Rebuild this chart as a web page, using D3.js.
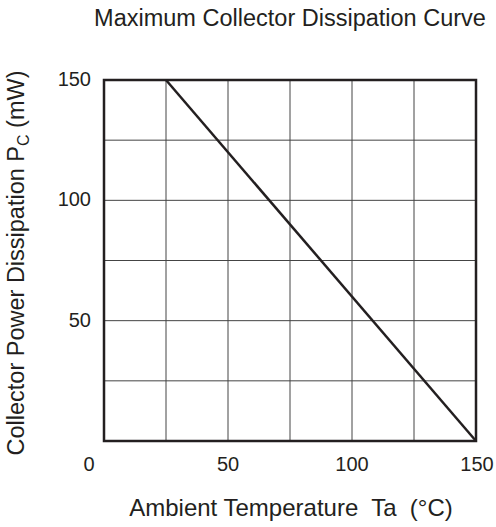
<!DOCTYPE html>
<html>
<head>
<meta charset="utf-8">
<script src="https://cdn.jsdelivr.net/npm/d3@7"></script>
<style>
  body { margin: 0; background: #fff; }
  text { font-family: "Liberation Sans", Arial, sans-serif; fill: #231f20; }
</style>
</head>
<body>
<svg id="chart" width="496" height="527"></svg>
<script>
// Data: derating curve (Ta in °C, Pc in mW)
const temps = [25, 150];
const power = [150, 0];
const xTicks = [0, 50, 100, 150];
const yTicks = [50, 100, 150];
const gridStep = [0, 25, 50, 75, 100, 125, 150];

const margin = { top: 80, right: 20, bottom: 86, left: 104 };
const width = 496 - margin.left - margin.right;
const height = 527 - margin.top - margin.bottom;

const x = d3.scaleLinear().domain([0, 150]).range([0, width]);
const y = d3.scaleLinear().domain([0, 150]).range([height, 0]);

const svg = d3.select("#chart");
const g = svg.append("g").attr("transform", `translate(${margin.left}, ${margin.top})`);

// Grid lines
g.selectAll(".vgrid")
  .data(gridStep)
  .enter()
  .append("line")
  .attr("x1", (d) => x(d))
  .attr("x2", (d) => x(d))
  .attr("y1", 0)
  .attr("y2", height)
  .style("stroke", "#444")
  .style("stroke-width", 1);

g.selectAll(".hgrid")
  .data(gridStep)
  .enter()
  .append("line")
  .attr("x1", 0)
  .attr("x2", width)
  .attr("y1", (d) => y(d))
  .attr("y2", (d) => y(d))
  .style("stroke", "#444")
  .style("stroke-width", 1);

// Frame
g.append("rect")
  .attr("width", width)
  .attr("height", height)
  .style("fill", "none")
  .style("stroke", "#231f20")
  .style("stroke-width", 2.5);

// Curve
const line = d3.line()
  .x((d, i) => x(temps[i]))
  .y((d) => y(d));

g.append("path")
  .datum(power)
  .attr("d", line)
  .style("fill", "none")
  .style("stroke", "#231f20")
  .style("stroke-width", 2.5);

// X tick labels (the 0 sits left of the corner)
g.selectAll(".xlabel")
  .data(xTicks)
  .enter()
  .append("text")
  .attr("x", (d) => x(d) + (d === 0 ? -15 : d === 150 ? 1 : 0))
  .attr("y", height + 30)
  .attr("text-anchor", "middle")
  .style("font-size", "20px")
  .text((d) => d);

// Y tick labels
g.selectAll(".ylabel")
  .data(yTicks)
  .enter()
  .append("text")
  .attr("x", -13)
  .attr("y", (d) => y(d) + 6)
  .attr("text-anchor", "end")
  .style("font-size", "20px")
  .text((d) => d);

// Title
svg.append("text")
  .attr("x", 290)
  .attr("y", 26)
  .attr("text-anchor", "middle")
  .style("font-size", "23.5px")
  .text("Maximum Collector Dissipation Curve");

// X axis title
svg.append("text")
  .attr("x", 291)
  .attr("y", 516)
  .attr("text-anchor", "middle")
  .style("font-size", "24px")
  .attr("xml:space", "preserve")
  .text("Ambient Temperature  Ta  (°C)");

// Y axis title with subscript
const yTitle = svg.append("text")
  .attr("transform", "translate(24, 263) rotate(-90)")
  .attr("text-anchor", "middle")
  .style("font-size", "23.5px");
yTitle.append("tspan").text("Collector Power Dissipation P");
yTitle.append("tspan").attr("dy", 5).style("font-size", "16px").text("C");
yTitle.append("tspan").attr("dy", -5).text(" (mW)");
</script>
</body>
</html>
